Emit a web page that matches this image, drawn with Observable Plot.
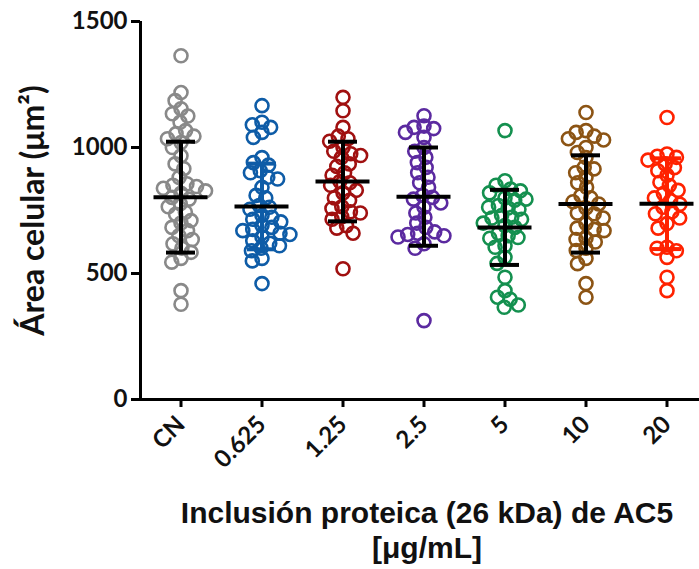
<!DOCTYPE html>
<html>
<head>
<meta charset="utf-8">
<script src="https://cdn.jsdelivr.net/npm/d3@7"></script>
<script src="https://cdn.jsdelivr.net/npm/@observablehq/plot@0.6"></script>
<style>
  html, body { margin: 0; padding: 0; background: #fff; overflow: hidden; }
  #xtitle { margin-left: 82px; width: 690px; text-align: center; font-family: "Liberation Sans", Arial, sans-serif; font-weight: bold; font-size: 30px; line-height: 35px; color: #111; }
</style>
</head>
<body>
<div id="chart"></div>
<div id="xtitle"></div>
<script>
const categories = ["CN", "0.625", "1.25", "2.5", "5", "10", "20"];
const groupColors = ["#898989", "#0e5ca7", "#a01010", "#5b2aa0", "#14904f", "#8c5414", "#ff2200"];
const whiskerColors = ["#000", "#0e5ca7", "#000", "#000", "#000", "#000", "#ff2200"];

const valsCN = [1364, 1218, 1186, 1154, 1134, 1125, 1100, 1067, 1055, 1045, 1035, 1020, 1000, 967, 935, 916, 881, 856, 850, 845, 838, 828, 818, 802, 795, 777, 765, 743, 735, 710, 700, 683, 670, 650, 635, 618, 600, 584, 560, 545, 432, 378];
const vals0625 = [1166, 1100, 1090, 1080, 1060, 1040, 960, 940, 930, 908, 900, 882, 875, 842, 810, 800, 770, 763, 755, 730, 723, 715, 705, 690, 683, 675, 670, 660, 655, 645, 630, 620, 610, 600, 590, 560, 550, 460];
const vals125 = [1199, 1146, 1080, 1045, 1035, 1025, 1000, 985, 975, 968, 960, 935, 925, 900, 890, 865, 860, 850, 830, 820, 800, 790, 765, 758, 745, 740, 725, 715, 690, 680, 660, 519];
const vals25 = [1126, 1085, 1080, 1075, 1060, 1040, 1000, 985, 961, 940, 921, 900, 882, 860, 842, 810, 802, 795, 780, 763, 740, 723, 700, 683, 665, 660, 655, 650, 645, 618, 600, 313];
const vals5 = [1067, 868, 850, 835, 828, 820, 800, 795, 791, 770, 763, 760, 755, 730, 723, 720, 715, 700, 690, 683, 660, 650, 643, 640, 610, 604, 564, 540, 485, 432, 406, 398, 375, 366];
const vals10 = [1139, 1067, 1060, 1045, 1035, 1030, 1000, 980, 960, 921, 915, 900, 882, 860, 842, 809, 800, 785, 776, 760, 740, 737, 720, 698, 680, 675, 670, 640, 635, 625, 600, 591, 560, 539, 460, 406];
const vals20 = [1119, 974, 965, 961, 950, 935, 920, 908, 890, 862, 849, 830, 817, 800, 789, 775, 763, 745, 737, 720, 698, 680, 604, 600, 590, 564, 485, 432];

const means = [803, 766, 865, 805, 683, 776, 777];
const sds = [220, 170, 158, 195, 149, 193, 180];

const yTicks = [0, 500, 1000, 1500];
const yLabel = "Área celular (μm²)";
const xTitle = ["Inclusión proteica (26 kDa) de AC5", "[μg/mL]"];

const xDomain = [0, 1];
const groups = [valsCN, vals0625, vals125, vals25, vals5, vals10, vals20];
const points = groups.flatMap((vals, i) => vals.map(v => ({cat: categories[i], v})));
const summary = categories.map((c, i) => ({cat: c, mid: d3.mean(xDomain), mean: means[i], lo: means[i] - sds[i], hi: means[i] + sds[i], wc: whiskerColors[i]}));

const font = "Lato, 'Open Sans', sans-serif";

const chart = Plot.plot({
  width: 707,
  height: 495,
  marginLeft: 140,
  marginRight: 0,
  marginTop: 21,
  marginBottom: 96,
  style: {background: "#fff", maxWidth: "none", overflow: "visible"},
  fx: {domain: categories, padding: 0, label: null},
  x: {domain: xDomain, axis: null},
  y: {domain: [0, 1500], label: null},
  color: {domain: categories, range: groupColors},
  marks: [
    Plot.dot(points, Plot.dodgeX({anchor: "middle", padding: -3}, {fx: "cat", y: "v", r: 6.5, stroke: "cat", strokeWidth: 2.6, fill: "none"})),
    Plot.ruleX(summary, {fx: "cat", x: "mid", y1: "lo", y2: "hi", stroke: "wc", strokeWidth: 4}),
    Plot.tickY(summary, {fx: "cat", y: "lo", stroke: "wc", strokeWidth: 4, inset: 26}),
    Plot.tickY(summary, {fx: "cat", y: "hi", stroke: "wc", strokeWidth: 4, inset: 26}),
    Plot.tickY(summary, {fx: "cat", y: "mean", stroke: "#000", strokeWidth: 4, inset: 13.5}),
    Plot.ruleY([0], {stroke: "#000", strokeWidth: 3}),
    Plot.ruleX([{cat: categories[0], edge: xDomain[0]}], {fx: "cat", x: "edge", y1: 0, y2: 1500, stroke: "#000", strokeWidth: 3}),
    Plot.axisY({ticks: yTicks, tickFormat: d3.format("d"), tickSize: 9, tickPadding: 4, strokeWidth: 3, fontSize: 24, fontWeight: "bold", fontFamily: font, fill: "#111", label: null}),
    Plot.axisFx({anchor: "bottom", tickRotate: -45, tickSize: 8, tickPadding: 13, strokeWidth: 3, fontSize: 24, fontWeight: "bold", fontFamily: font, fill: "#111", label: null}),
    Plot.text([{cat: categories[0]}], {fx: "cat", text: () => yLabel, frameAnchor: "left", textAnchor: "middle", rotate: -90, dx: -107, fontSize: 32, fontWeight: "bold", fontFamily: font, fill: "#111"})
  ]
});
document.getElementById("chart").appendChild(chart);
document.getElementById("xtitle").innerHTML = xTitle.join("<br>");
</script>
</body>
</html>
